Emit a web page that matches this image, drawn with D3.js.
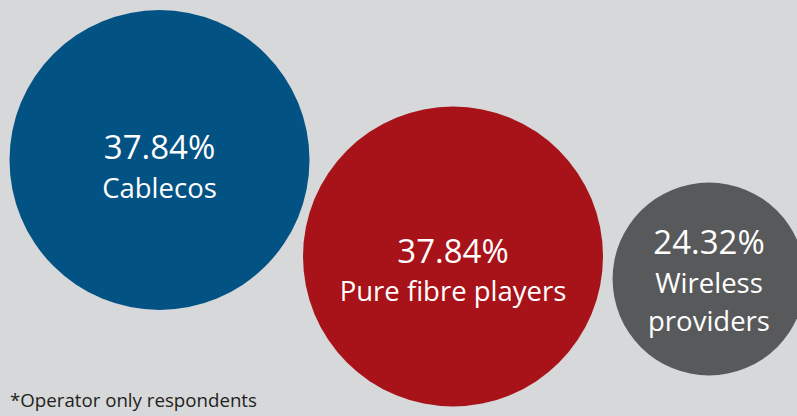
<!DOCTYPE html>
<html>
<head>
<meta charset="utf-8">
<script src="https://cdn.jsdelivr.net/npm/d3@7"></script>
<style>
  html, body { margin: 0; padding: 0; background: #d7d8da; }
  svg { display: block; }
  text { font-family: "Open Sans", "Noto Sans", sans-serif; }
</style>
</head>
<body>
<svg id="chart" width="797" height="416"></svg>
<script>
// Share of operator respondents by type
const categories = ["Cablecos", "Pure fibre players", "Wireless providers"];
const values = [37.84, 37.84, 24.32];
const labelLines = [["Cablecos"], ["Pure fibre players"], ["Wireless", "providers"]];
const colors = ["#035284", "#a81219", "#58595b"];
const footnote = "*Operator only respondents";

// Bubble layout (centres) and per-bubble text shift
const centres = [[159.5, 160], [453, 256.5], [709, 279]];
const textShift = [-1, 6, -25];

const width = 797, height = 416;
const svg = d3.select("#chart");

svg.append("rect").attr("width", width).attr("height", height).attr("fill", "#d7d8da");

// radius grows linearly with the share
const r = d3.scaleLinear().domain([0, d3.max(values)]).range([0, 150]);

const data = categories.map((c, i) => ({
  name: c, value: values[i], lines: labelLines[i], color: colors[i],
  cx: centres[i][0], cy: centres[i][1], shift: textShift[i]
}));

const g = svg.selectAll("g.bubble").data(data).join("g").attr("class", "bubble");

g.append("circle")
  .attr("cx", d => d.cx)
  .attr("cy", d => d.cy)
  .attr("r", d => r(d.value))
  .attr("fill", d => d.color);

const fmt = d3.format(".2f");
const lineH = 38.5;

g.each(function(d) {
  const rows = [fmt(d.value) + "%"].concat(d.lines);
  d3.select(this).selectAll("text").data(rows).join("text")
    .attr("x", d.cx)
    .attr("y", (t, i) => d.cy + d.shift + i * lineH)
    .attr("text-anchor", "middle")
    .attr("fill", "#ffffff")
    .attr("font-size", (t, i) => i === 0 ? 33 : 27.5)
    .text(t => t);
});

svg.append("text")
  .attr("x", 10)
  .attr("y", 406.5)
  .attr("fill", "#231f20")
  .attr("font-size", 18.7)
  .text(footnote);
</script>
</body>
</html>
